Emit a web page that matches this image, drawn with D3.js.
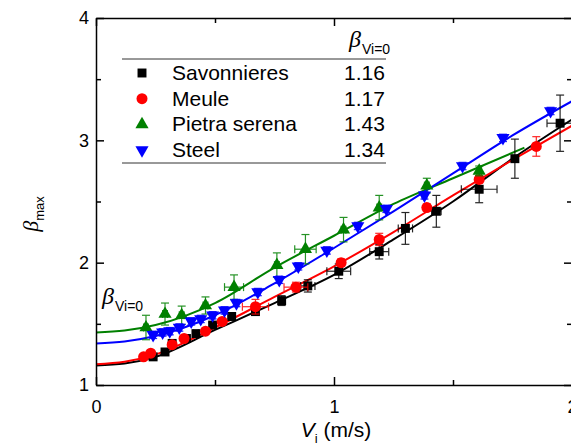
<!DOCTYPE html>
<html>
<head>
<meta charset="utf-8">
<script src="https://cdn.jsdelivr.net/npm/d3@7"></script>
<style>
  body { margin: 0; background: #fff; }
  svg { font-family: "Liberation Sans", Arial, sans-serif; }
  .axis path, .axis line { stroke: #000; stroke-width: 1.5; }
  .axis text { font-size: 18px; fill: #000; }
</style>
</head>
<body>
<div id="chart"></div>
<script>
// measured points (Vi in m/s, beta max)
var savV = [0.24, 0.29, 0.32, 0.38, 0.42, 0.49, 0.57, 0.67, 0.78, 0.89, 1.02, 1.19, 1.30, 1.43, 1.61, 1.76, 1.95];
var savB = [1.23, 1.27, 1.34, 1.38, 1.42, 1.49, 1.56, 1.60, 1.69, 1.81, 1.93, 2.09, 2.28, 2.42, 2.60, 2.85, 3.14];
var savYErr = [0.02, 0.02, 0.02, 0.02, 0.02, 0.02, 0.02, 0.02, 0.04, 0.05, 0.06, 0.06, 0.13, 0.13, 0.11, 0.16, 0.23];
var savXErr = [0.01, 0.01, 0.01, 0.01, 0.01, 0.01, 0.01, 0.01, 0.01, 0.03, 0.05, 0.04, 0.03, 0.02, 0.075, 0.01, 0.055];

var meuV = [0.20, 0.23, 0.32, 0.37, 0.46, 0.53, 0.67, 0.84, 1.03, 1.19, 1.39, 1.61, 1.85];
var meuB = [1.23, 1.26, 1.33, 1.38, 1.44, 1.52, 1.64, 1.80, 2.00, 2.19, 2.45, 2.68, 2.95];
var meuYErr = [0.02, 0.02, 0.02, 0.02, 0.02, 0.02, 0.06, 0.04, 0.03, 0.05, 0.03, 0.03, 0.08];
var meuXErr = [0.01, 0.01, 0.01, 0.01, 0.01, 0.01, 0.055, 0.05, 0.01, 0.01, 0.01, 0.01, 0.01];

var pieV = [0.21, 0.29, 0.36, 0.46, 0.58, 0.76, 0.88, 1.04, 1.19, 1.39, 1.61];
var pieB = [1.47, 1.58, 1.57, 1.65, 1.80, 1.98, 2.11, 2.27, 2.45, 2.63, 2.75];
var pieYErr = [0.10, 0.09, 0.075, 0.07, 0.10, 0.10, 0.12, 0.10, 0.10, 0.06, 0.04];
var pieXErr = [0.01, 0.01, 0.01, 0.01, 0.04, 0.01, 0.045, 0.01, 0.01, 0.01, 0.01];

var steV = [0.24, 0.28, 0.31, 0.35, 0.40, 0.44, 0.49, 0.54, 0.59, 0.68, 0.77, 0.85, 0.97, 1.10, 1.22, 1.38, 1.54, 1.71, 1.91];
var steB = [1.41, 1.43, 1.44, 1.47, 1.52, 1.54, 1.57, 1.61, 1.67, 1.76, 1.86, 1.97, 2.10, 2.30, 2.44, 2.55, 2.79, 3.02, 3.24];
var steYErr = [0.03, 0.03, 0.03, 0.03, 0.03, 0.03, 0.03, 0.03, 0.03, 0.03, 0.03, 0.03, 0.03, 0.03, 0.03, 0.03, 0.03, 0.03, 0.03];
var steXErr = [0.01, 0.01, 0.01, 0.01, 0.01, 0.01, 0.01, 0.01, 0.01, 0.01, 0.01, 0.01, 0.01, 0.01, 0.01, 0.01, 0.01, 0.01, 0.01];

// fitted curves
var fitV = [0, 0.12, 0.25, 0.5, 0.75, 1, 1.25, 1.5, 1.75, 2];
var savFit = [1.16, 1.175, 1.23, 1.45, 1.67, 1.90, 2.19, 2.50, 2.85, 3.17];
var meuFit = [1.17, 1.19, 1.25, 1.47, 1.72, 1.97, 2.25, 2.55, 2.84, 3.12];
var steFit = [1.34, 1.355, 1.40, 1.57, 1.83, 2.12, 2.42, 2.73, 3.04, 3.32];
var pieFitV = [0, 0.12, 0.25, 0.5, 0.75, 1, 1.25, 1.5, 1.8];
var pieFit = [1.43, 1.445, 1.49, 1.67, 1.96, 2.22, 2.48, 2.69, 2.94];

var names = ["Savonnieres", "Meule", "Pietra serena", "Steel"];
var beta0 = ["1.16", "1.17", "1.43", "1.34"];
var colors = ["#000000", "#ff0000", "#008000", "#0000ff"];

var xTicks = [0, 1, 2];
var xMinor = [0.5, 1.5];
var yTicks = [1, 2, 3, 4];
var yMinor = [1.5, 2.5, 3.5];

var width = 571, height = 447;

var svg = d3.select("#chart").append("svg")
    .attr("width", width)
    .attr("height", height);

var x = d3.scaleLinear().domain([0, 2]).range([96, 572]);
var y = d3.scaleLinear().domain([1, 4]).range([385, 18]);

svg.append("clipPath").attr("id", "clip")
    .append("rect")
    .attr("x", 96).attr("y", 18)
    .attr("width", 476).attr("height", 367);

var series = [
    {v: savV, b: savB, ye: savYErr, xe: savXErr, fv: fitV, fb: savFit, sym: d3.symbolSquare, size: 80, rot: 0},
    {v: meuV, b: meuB, ye: meuYErr, xe: meuXErr, fv: fitV, fb: meuFit, sym: d3.symbolCircle, size: 95, rot: 0},
    {v: pieV, b: pieB, ye: pieYErr, xe: pieXErr, fv: pieFitV, fb: pieFit, sym: d3.symbolTriangle, size: 75, rot: 0},
    {v: steV, b: steB, ye: steYErr, xe: steXErr, fv: fitV, fb: steFit, sym: d3.symbolTriangle, size: 75, rot: 180}
];

var line = d3.line()
    .x(d => x(d[0]))
    .y(d => y(d[1]))
    .curve(d3.curveMonotoneX);

var plot = svg.append("g").attr("clip-path", "url(#clip)");

// fit lines
series.forEach((s, k) => {
    plot.append("path")
        .datum(s.fv.map((v, i) => [v, s.fb[i]]))
        .attr("d", line)
        .attr("fill", "none")
        .attr("stroke", colors[k])
        .attr("stroke-width", 2);
});

// error bars and markers
var cap = 4;
series.forEach((s, k) => {
    var pts = s.v.map((v, i) => ({v: v, b: s.b[i], ye: s.ye[i], xe: s.xe[i]}));
    var g = plot.append("g")
        .attr("stroke", colors[k])
        .attr("stroke-width", 1.2)
        .attr("opacity", 0.85);
    pts.forEach(d => {
        var cx = x(d.v), cy = y(d.b);
        var y0 = y(d.b - d.ye), y1 = y(d.b + d.ye);
        var x0 = x(d.v - d.xe), x1 = x(d.v + d.xe);
        g.append("line").attr("x1", cx).attr("x2", cx).attr("y1", y0).attr("y2", y1);
        g.append("line").attr("x1", cx - cap).attr("x2", cx + cap).attr("y1", y0).attr("y2", y0);
        g.append("line").attr("x1", cx - cap).attr("x2", cx + cap).attr("y1", y1).attr("y2", y1);
        g.append("line").attr("x1", x0).attr("x2", x1).attr("y1", cy).attr("y2", cy);
        g.append("line").attr("x1", x0).attr("x2", x0).attr("y1", cy - cap).attr("y2", cy + cap);
        g.append("line").attr("x1", x1).attr("x2", x1).attr("y1", cy - cap).attr("y2", cy + cap);
    });
    plot.append("g").selectAll("path")
        .data(pts)
        .join("path")
        .attr("d", d3.symbol().type(s.sym).size(s.size))
        .attr("transform", d => "translate(" + x(d.v) + "," + y(d.b) + ") rotate(" + s.rot + ")")
        .attr("fill", colors[k]);
});

// axes
function axisG(gen, tx, ty) {
    var g = svg.append("g").attr("class", "axis")
        .attr("transform", "translate(" + tx + "," + ty + ")")
        .call(gen);
    return g;
}

axisG(d3.axisBottom(x).tickValues(xTicks).tickFormat(d3.format("d"))
    .tickSizeInner(-8).tickSizeOuter(0).tickPadding(15), 0, 385);
axisG(d3.axisBottom(x).tickValues(xMinor).tickFormat("")
    .tickSizeInner(-5).tickSizeOuter(0), 0, 385).select(".domain").remove();
axisG(d3.axisTop(x).tickValues(xTicks).tickFormat("")
    .tickSizeInner(-8).tickSizeOuter(0), 0, 18);
axisG(d3.axisTop(x).tickValues(xMinor).tickFormat("")
    .tickSizeInner(-5).tickSizeOuter(0), 0, 18).select(".domain").remove();

axisG(d3.axisLeft(y).tickValues(yTicks).tickFormat(d3.format("d"))
    .tickSizeInner(-8).tickSizeOuter(0).tickPadding(7), 96, 0);
axisG(d3.axisLeft(y).tickValues(yMinor).tickFormat("")
    .tickSizeInner(-5).tickSizeOuter(0), 96, 0).select(".domain").remove();
axisG(d3.axisRight(y).tickValues(yTicks).tickFormat("")
    .tickSizeInner(-8).tickSizeOuter(0), 572, 0);
axisG(d3.axisRight(y).tickValues(yMinor).tickFormat("")
    .tickSizeInner(-5).tickSizeOuter(0), 572, 0).select(".domain").remove();

// axis titles
var xt = svg.append("text")
    .attr("x", 336).attr("y", 437)
    .attr("text-anchor", "middle")
    .attr("font-size", 21);
xt.append("tspan").attr("font-style", "italic").text("V");
xt.append("tspan").attr("font-size", 13).attr("dy", 6).text("i");
xt.append("tspan").attr("dy", -6).text(" (m/s)");

var yt = svg.append("text")
    .attr("transform", "translate(38,214) rotate(-90)")
    .attr("text-anchor", "middle")
    .attr("font-size", 22);
yt.append("tspan").attr("font-family", "'Liberation Serif', serif").attr("font-style", "italic").text("β");
yt.append("tspan").attr("font-size", 13).attr("dy", 6).text("max");

// beta Vi=0 label inside plot
function betaLabel(px, py) {
    var t = svg.append("text").attr("x", px).attr("y", py).attr("font-size", 24);
    t.append("tspan").attr("font-family", "'Liberation Serif', serif").attr("font-style", "italic").text("β");
    t.append("tspan").attr("font-size", 14).attr("dy", 7).attr("dx", 1).text("Vi=0");
}
betaLabel(102, 304);
betaLabel(349, 47);

// legend table
var lg = svg.append("g");
lg.append("line").attr("x1", 122).attr("x2", 386).attr("y1", 59).attr("y2", 59)
    .attr("stroke", "#333").attr("stroke-width", 1);
lg.append("line").attr("x1", 122).attr("x2", 386).attr("y1", 163).attr("y2", 163)
    .attr("stroke", "#333").attr("stroke-width", 1);

names.forEach((n, i) => {
    var base = 80 + i * 25.7;
    var s = series[i];
    lg.append("path")
        .attr("d", d3.symbol().type(s.sym).size(s.size))
        .attr("transform", "translate(142," + (base - 7) + ") rotate(" + s.rot + ")")
        .attr("fill", colors[i]);
    lg.append("text").attr("x", 172).attr("y", base).attr("font-size", 21).text(n);
    lg.append("text").attr("x", 344).attr("y", base).attr("font-size", 21).text(beta0[i]);
});
</script>
</body>
</html>
